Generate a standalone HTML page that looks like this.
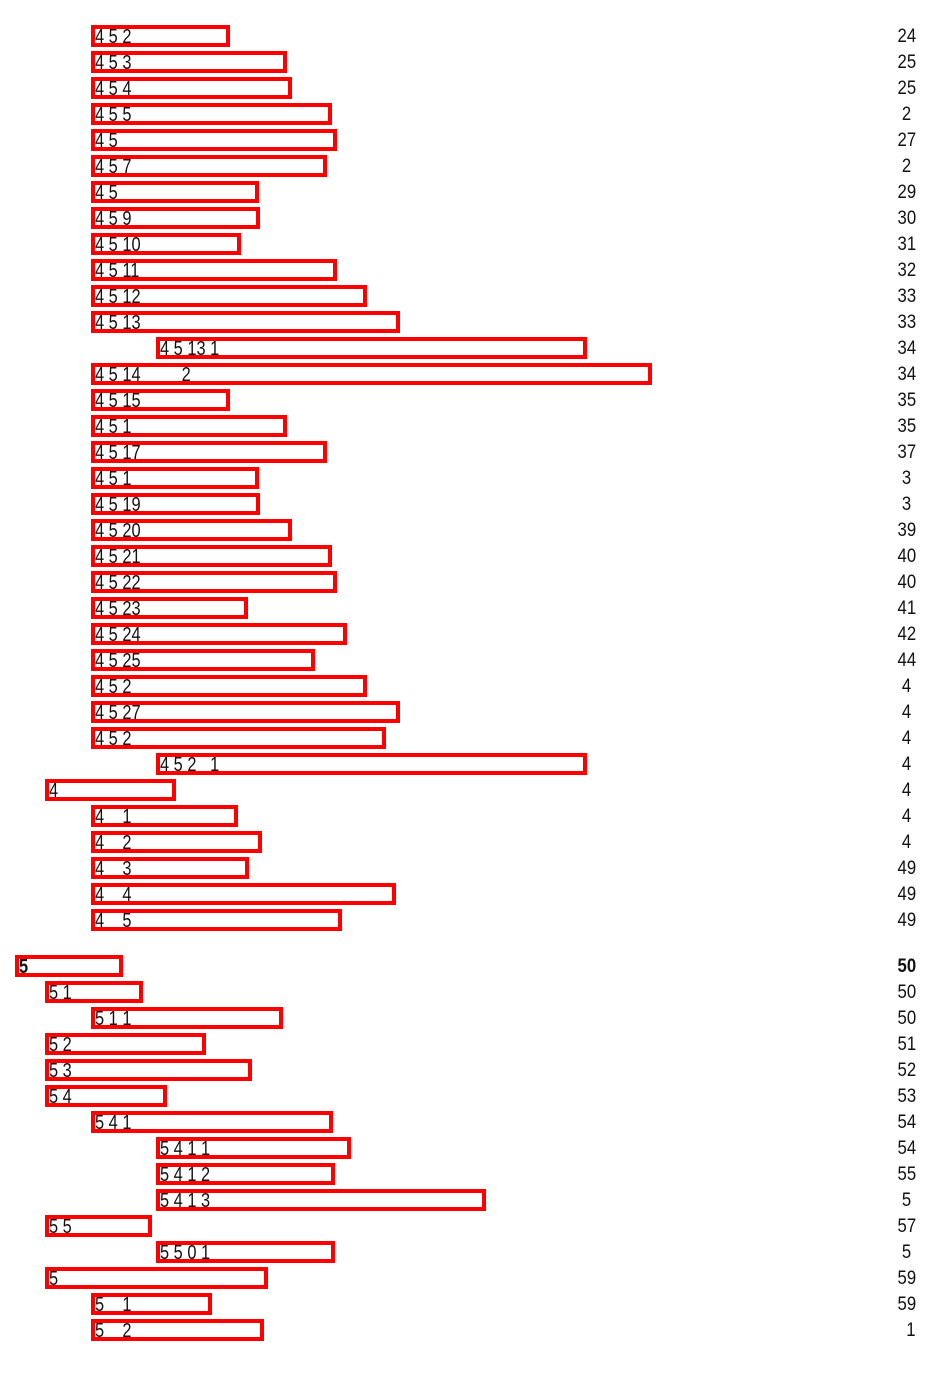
<!DOCTYPE html>
<html><head><meta charset="utf-8"><style>
body{margin:0;width:950px;height:1392px;background:#fff;position:relative;font-family:"Liberation Sans",sans-serif;font-size:20px;color:#111;overflow:hidden}
.b{position:absolute;height:22px;border:4px solid #f00;box-sizing:border-box;line-height:15px;white-space:pre;overflow:visible}
.b span{display:inline-block;transform:scaleX(0.82);transform-origin:left;position:relative;top:1px}
.n{position:absolute;right:34px;line-height:20px;white-space:pre;font-size:19px;transform:scaleX(0.88);transform-origin:right}
.bold{font-weight:bold}
</style></head><body>
<div class="b" style="top:25px;left:91px;width:139px"><span>4 5 2</span></div><div class="n" style="top:27px">24</div>
<div class="b" style="top:51px;left:91px;width:196px"><span>4 5 3</span></div><div class="n" style="top:53px">25</div>
<div class="b" style="top:77px;left:91px;width:201px"><span>4 5 4</span></div><div class="n" style="top:79px">25</div>
<div class="b" style="top:103px;left:91px;width:241px"><span>4 5 5</span></div><div class="n" style="top:105px">2 </div>
<div class="b" style="top:129px;left:91px;width:246px"><span>4 5</span></div><div class="n" style="top:131px">27</div>
<div class="b" style="top:155px;left:91px;width:236px"><span>4 5 7</span></div><div class="n" style="top:157px">2 </div>
<div class="b" style="top:181px;left:91px;width:168px"><span>4 5</span></div><div class="n" style="top:183px">29</div>
<div class="b" style="top:207px;left:91px;width:169px"><span>4 5 9</span></div><div class="n" style="top:209px">30</div>
<div class="b" style="top:233px;left:91px;width:150px"><span>4 5 10</span></div><div class="n" style="top:235px">31</div>
<div class="b" style="top:259px;left:91px;width:246px"><span>4 5 11</span></div><div class="n" style="top:261px">32</div>
<div class="b" style="top:285px;left:91px;width:276px"><span>4 5 12</span></div><div class="n" style="top:287px">33</div>
<div class="b" style="top:311px;left:91px;width:309px"><span>4 5 13</span></div><div class="n" style="top:313px">33</div>
<div class="b" style="top:337px;left:156px;width:431px"><span>4 5 13 1</span></div><div class="n" style="top:339px">34</div>
<div class="b" style="top:363px;left:91px;width:561px"><span>4 5 14         2</span></div><div class="n" style="top:365px">34</div>
<div class="b" style="top:389px;left:91px;width:139px"><span>4 5 15</span></div><div class="n" style="top:391px">35</div>
<div class="b" style="top:415px;left:91px;width:196px"><span>4 5 1</span></div><div class="n" style="top:417px">35</div>
<div class="b" style="top:441px;left:91px;width:236px"><span>4 5 17</span></div><div class="n" style="top:443px">37</div>
<div class="b" style="top:467px;left:91px;width:168px"><span>4 5 1</span></div><div class="n" style="top:469px">3 </div>
<div class="b" style="top:493px;left:91px;width:169px"><span>4 5 19</span></div><div class="n" style="top:495px">3 </div>
<div class="b" style="top:519px;left:91px;width:201px"><span>4 5 20</span></div><div class="n" style="top:521px">39</div>
<div class="b" style="top:545px;left:91px;width:241px"><span>4 5 21</span></div><div class="n" style="top:547px">40</div>
<div class="b" style="top:571px;left:91px;width:246px"><span>4 5 22</span></div><div class="n" style="top:573px">40</div>
<div class="b" style="top:597px;left:91px;width:157px"><span>4 5 23</span></div><div class="n" style="top:599px">41</div>
<div class="b" style="top:623px;left:91px;width:256px"><span>4 5 24</span></div><div class="n" style="top:625px">42</div>
<div class="b" style="top:649px;left:91px;width:224px"><span>4 5 25</span></div><div class="n" style="top:651px">44</div>
<div class="b" style="top:675px;left:91px;width:276px"><span>4 5 2</span></div><div class="n" style="top:677px">4 </div>
<div class="b" style="top:701px;left:91px;width:309px"><span>4 5 27</span></div><div class="n" style="top:703px">4 </div>
<div class="b" style="top:727px;left:91px;width:295px"><span>4 5 2</span></div><div class="n" style="top:729px">4 </div>
<div class="b" style="top:753px;left:156px;width:431px"><span>4 5 2   1</span></div><div class="n" style="top:755px">4 </div>
<div class="b" style="top:779px;left:45px;width:131px"><span>4</span></div><div class="n" style="top:781px">4 </div>
<div class="b" style="top:805px;left:91px;width:147px"><span>4    1</span></div><div class="n" style="top:807px">4 </div>
<div class="b" style="top:831px;left:91px;width:171px"><span>4    2</span></div><div class="n" style="top:833px">4 </div>
<div class="b" style="top:857px;left:91px;width:158px"><span>4    3</span></div><div class="n" style="top:859px">49</div>
<div class="b" style="top:883px;left:91px;width:305px"><span>4    4</span></div><div class="n" style="top:885px">49</div>
<div class="b" style="top:909px;left:91px;width:251px"><span>4    5</span></div><div class="n" style="top:911px">49</div>
<div class="b bold" style="top:955px;left:15px;width:108px"><span>5</span></div><div class="n bold" style="top:957px">50</div>
<div class="b" style="top:981px;left:45px;width:98px"><span>5 1</span></div><div class="n" style="top:983px">50</div>
<div class="b" style="top:1007px;left:91px;width:192px"><span>5 1 1</span></div><div class="n" style="top:1009px">50</div>
<div class="b" style="top:1033px;left:45px;width:161px"><span>5 2</span></div><div class="n" style="top:1035px">51</div>
<div class="b" style="top:1059px;left:45px;width:207px"><span>5 3</span></div><div class="n" style="top:1061px">52</div>
<div class="b" style="top:1085px;left:45px;width:122px"><span>5 4</span></div><div class="n" style="top:1087px">53</div>
<div class="b" style="top:1111px;left:91px;width:242px"><span>5 4 1</span></div><div class="n" style="top:1113px">54</div>
<div class="b" style="top:1137px;left:156px;width:195px"><span>5 4 1 1</span></div><div class="n" style="top:1139px">54</div>
<div class="b" style="top:1163px;left:156px;width:179px"><span>5 4 1 2</span></div><div class="n" style="top:1165px">55</div>
<div class="b" style="top:1189px;left:156px;width:330px"><span>5 4 1 3</span></div><div class="n" style="top:1191px">5 </div>
<div class="b" style="top:1215px;left:45px;width:107px"><span>5 5</span></div><div class="n" style="top:1217px">57</div>
<div class="b" style="top:1241px;left:156px;width:179px"><span>5 5 0 1</span></div><div class="n" style="top:1243px">5 </div>
<div class="b" style="top:1267px;left:45px;width:223px"><span>5</span></div><div class="n" style="top:1269px">59</div>
<div class="b" style="top:1293px;left:91px;width:121px"><span>5    1</span></div><div class="n" style="top:1295px">59</div>
<div class="b" style="top:1319px;left:91px;width:173px"><span>5    2</span></div><div class="n" style="top:1321px">1</div>
</body></html>
